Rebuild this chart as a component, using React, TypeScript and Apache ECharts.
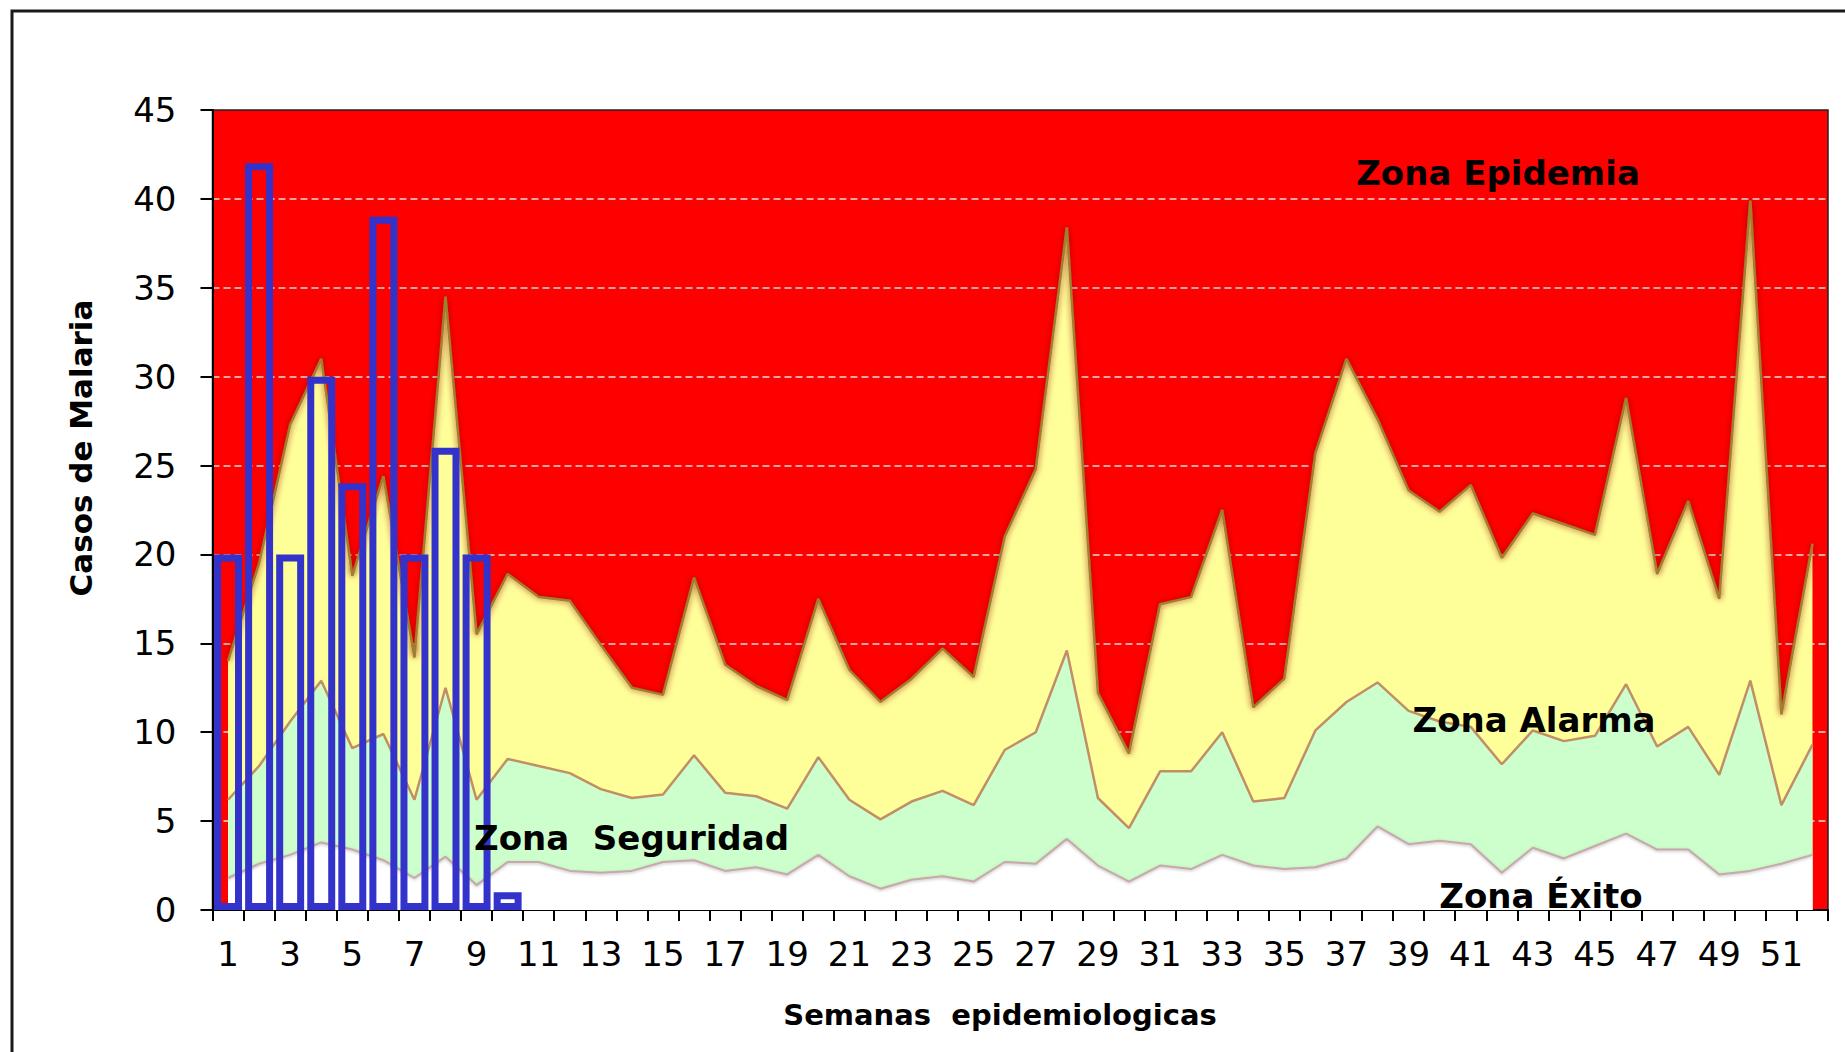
import React, { useEffect, useRef } from "react";
import * as echarts from "echarts";

// Semanas epidemiológicas
const semanas = [
  "1", "2", "3", "4", "5", "6", "7", "8", "9", "10",
  "11", "12", "13", "14", "15", "16", "17", "18", "19", "20",
  "21", "22", "23", "24", "25", "26", "27", "28", "29", "30",
  "31", "32", "33", "34", "35", "36", "37", "38", "39", "40",
  "41", "42", "43", "44", "45", "46", "47", "48", "49", "50",
  "51", "52",
];

// Límite superior de la zona de alarma (tercer cuartil)
const limiteAlarma = [
  14.0, 19.5, 27.3, 31.0, 18.8, 24.4, 14.2, 34.5, 15.5, 18.9,
  17.6, 17.4, 14.9, 12.5, 12.1, 18.7, 13.8, 12.6, 11.8, 17.5,
  13.5, 11.7, 13.0, 14.7, 13.1, 21.0, 24.8, 38.4, 12.2, 8.8,
  17.2, 17.6, 22.5, 11.4, 13.0, 25.7, 31.0, 27.6, 23.6, 22.4,
  23.9, 19.8, 22.3, 21.7, 21.1, 28.8, 18.9, 23.0, 17.5, 39.9,
  11.0, 20.6,
];

// Límite superior de la zona de seguridad (mediana)
const limiteSeguridad = [
  6.2, 8.1, 10.6, 12.9, 9.1, 9.9, 6.2, 12.5, 6.2, 8.5,
  8.1, 7.7, 6.8, 6.3, 6.5, 8.7, 6.6, 6.4, 5.7, 8.6,
  6.2, 5.1, 6.1, 6.7, 5.9, 9.0, 10.0, 14.6, 6.3, 4.6,
  7.8, 7.8, 10.0, 6.1, 6.3, 10.1, 11.7, 12.8, 11.2, 10.6,
  10.3, 8.2, 10.1, 9.5, 9.8, 12.7, 9.2, 10.3, 7.6, 12.9,
  5.9, 9.3,
];

// Límite superior de la zona de éxito (primer cuartil)
const limiteExito = [
  1.8, 2.6, 3.1, 3.8, 3.4, 2.8, 1.8, 3.0, 1.4, 2.7,
  2.7, 2.2, 2.1, 2.2, 2.7, 2.8, 2.2, 2.4, 2.0, 3.1,
  1.9, 1.2, 1.7, 1.9, 1.6, 2.7, 2.6, 4.0, 2.5, 1.6,
  2.5, 2.3, 3.1, 2.5, 2.3, 2.4, 2.9, 4.7, 3.7, 3.9,
  3.7, 2.1, 3.5, 2.9, 3.6, 4.3, 3.4, 3.4, 2.0, 2.2,
  2.6, 3.1,
];

// Casos observados (semanas 1 a 10)
const casos = [20, 42, 20, 30, 24, 39, 20, 26, 20, 1];

const FONT = "DejaVu Sans";

export default function App() {
  const ref = useRef<HTMLDivElement>(null);

  useEffect(() => {
    if (!ref.current) return;
    const chart = echarts.init(ref.current, undefined, { renderer: "svg" });

    const areaSeries = (
      name: string,
      data: number[],
      fill: string,
      line: any
    ) => ({
      type: "line",
      name,
      data,
      symbol: "none",
      smooth: false,
      lineStyle: line,
      areaStyle: { color: fill, opacity: 1 },
      emphasis: { disabled: true },
    });

    chart.setOption({
      animation: false,
      backgroundColor: "#ffffff",
      textStyle: { fontFamily: FONT },
      grid: {
        left: 212.5,
        right: 17,
        top: 110,
        bottom: 142,
        show: true,
        backgroundColor: "#ff0000",
        borderColor: "#222222",
        borderWidth: 1.5,
      },
      xAxis: {
        type: "category",
        data: semanas,
        boundaryGap: true,
        axisLine: { show: true, lineStyle: { color: "#000000", width: 2 } },
        axisTick: {
          show: true,
          interval: 0,
          length: 11,
          lineStyle: { color: "#000000", width: 2 },
        },
        axisLabel: {
          interval: 1,
          margin: 27,
          fontSize: 34,
          color: "#000000",
          fontFamily: FONT,
        },
        splitLine: { show: false },
      },
      yAxis: {
        type: "value",
        min: 0,
        max: 45,
        interval: 5,
        axisLine: { show: true, lineStyle: { color: "#000000", width: 2 } },
        axisTick: {
          show: true,
          length: 12,
          lineStyle: { color: "#000000", width: 2 },
        },
        axisLabel: {
          margin: 36,
          fontSize: 34,
          color: "#000000",
          fontFamily: FONT,
        },
        splitLine: {
          show: true,
          showMinLine: false,
          showMaxLine: false,
          lineStyle: { color: "#dcdcdc", type: [7, 4], width: 1.5 },
        },
      },
      series: [
        areaSeries("Zona Alarma", limiteAlarma, "#ffff99", {
          color: "#a0802e",
          width: 2.5,
          shadowColor: "rgba(150,0,0,0.9)",
          shadowBlur: 6,
        }),
        areaSeries("Zona Seguridad", limiteSeguridad, "#ccffcc", {
          color: "#c28e66",
          width: 2.5,
        }),
        areaSeries("Zona Éxito", limiteExito, "#ffffff", {
          color: "#c8a8a8",
          width: 2,
          shadowColor: "rgba(120,120,120,0.5)",
          shadowBlur: 3,
          shadowOffsetY: 1,
        }),
        {
          type: "bar",
          name: "Casos",
          data: casos,
          barWidth: "90%",
          itemStyle: {
            color: "rgba(0,0,0,0)",
            borderColor: "#3333cc",
            borderWidth: 7,
          },
          emphasis: { disabled: true },
          z: 5,
        },
      ],
      graphic: [
        {
          type: "rect",
          z: 200,
          shape: { x: 12, y: 11, width: 1900, height: 1100 },
          style: { fill: "none", stroke: "#1a1a1a", lineWidth: 3 },
        },
        {
          type: "text",
          z: 200,
          x: 1498,
          y: 173,
          style: {
            text: "Zona Epidemia",
            fill: "#000000",
            fontSize: 34,
            fontWeight: "bold",
            fontFamily: FONT,
            align: "center",
            verticalAlign: "middle",
          },
        },
        {
          type: "text",
          z: 200,
          x: 1534,
          y: 720,
          style: {
            text: "Zona Alarma",
            fill: "#000000",
            fontSize: 34,
            fontWeight: "bold",
            fontFamily: FONT,
            align: "center",
            verticalAlign: "middle",
          },
        },
        {
          type: "text",
          z: 200,
          x: 474,
          y: 838,
          style: {
            text: "Zona  Seguridad",
            fill: "#000000",
            fontSize: 34,
            fontWeight: "bold",
            fontFamily: FONT,
            align: "left",
            verticalAlign: "middle",
          },
        },
        {
          type: "text",
          z: 200,
          x: 1541,
          y: 896,
          style: {
            text: "Zona Éxito",
            fill: "#000000",
            fontSize: 34,
            fontWeight: "bold",
            fontFamily: FONT,
            align: "center",
            verticalAlign: "middle",
          },
        },
        {
          type: "text",
          z: 200,
          x: 81,
          y: 448,
          rotation: Math.PI / 2,
          style: {
            text: "Casos de Malaria",
            fill: "#000000",
            fontSize: 31,
            fontWeight: "bold",
            fontFamily: FONT,
            align: "center",
            verticalAlign: "middle",
          },
        },
        {
          type: "text",
          z: 200,
          x: 1000,
          y: 1015,
          style: {
            text: "Semanas  epidemiologicas",
            fill: "#000000",
            fontSize: 29,
            fontWeight: "bold",
            fontFamily: FONT,
            align: "center",
            verticalAlign: "middle",
          },
        },
      ],
    });

    return () => {
      chart.dispose();
    };
  }, []);

  return (
    <div
      ref={ref}
      style={{
        position: "absolute",
        left: 0,
        top: 0,
        width: 1845,
        height: 1052,
      }}
    />
  );
}
